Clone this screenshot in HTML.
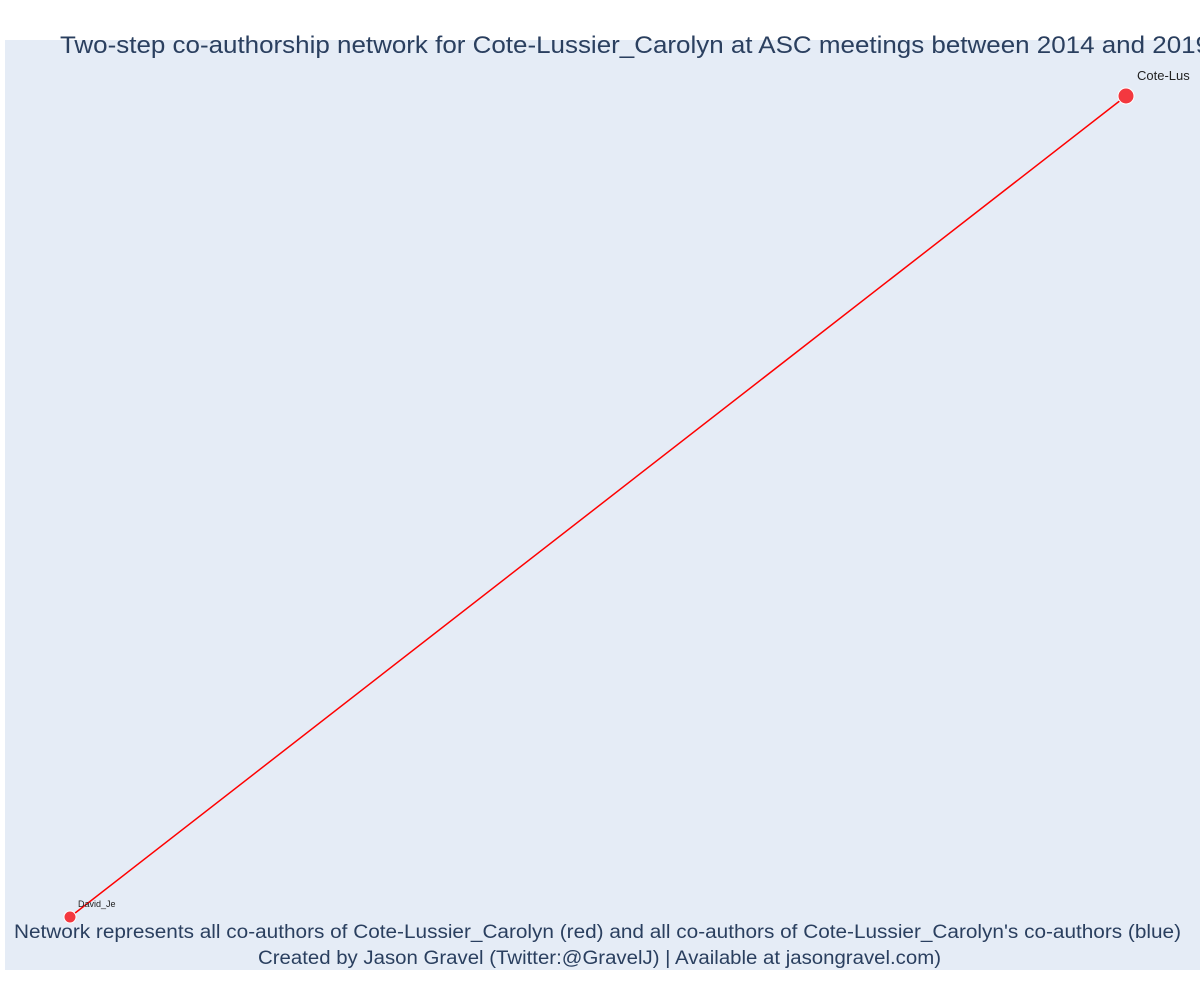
<!DOCTYPE html>
<html><head><meta charset="utf-8"><style>
body{margin:0;background:#fff;width:1200px;height:1000px;overflow:hidden;font-family:"Liberation Sans","DejaVu Sans",sans-serif}
</style></head><body>
<svg width="1200" height="1000">
<rect x="5" y="40" width="1195" height="930" fill="#e5ecf6"/>
<g id="edges"></g><g id="nodes"></g>
<text x="60" y="53" font-size="24" fill="#2a3f5f" textLength="1150" lengthAdjust="spacingAndGlyphs">Two-step co-authorship network for Cote-Lussier_Carolyn at ASC meetings between 2014 and 2019</text>
<text x="14" y="938" font-size="19" fill="#2a3f5f" textLength="1167" lengthAdjust="spacingAndGlyphs">Network represents all co-authors of Cote-Lussier_Carolyn (red) and all co-authors of Cote-Lussier_Carolyn's co-authors (blue)</text>
<text x="258" y="964" font-size="19" fill="#2a3f5f" textLength="683" lengthAdjust="spacingAndGlyphs">Created by Jason Gravel (Twitter:@GravelJ) | Available at jasongravel.com)</text>
</svg>
<script>
const nodeNames=["Cote-Lussier_Carolyn","David_Je"];
const nodeX=[1,0];
const nodeY=[1,0];
const nodeSize=[14,10];
const labelSize=[12,9];
const edgesFrom=[0];
const edgesTo=[1];
const sx=v=>70+v*(1126-70);
const sy=v=>917-v*(917-96);
const NS="http://www.w3.org/2000/svg";
const eg=document.getElementById('edges'),ng=document.getElementById('nodes');
edgesFrom.forEach((f,i)=>{const t=edgesTo[i];const l=document.createElementNS(NS,'line');
l.setAttribute('x1',sx(nodeX[f]));l.setAttribute('y1',sy(nodeY[f]));l.setAttribute('x2',sx(nodeX[t]));l.setAttribute('y2',sy(nodeY[t]));
l.setAttribute('stroke','red');l.setAttribute('stroke-width','1.5');


eg.appendChild(l);});
nodeNames.forEach((n,i)=>{const c=document.createElementNS(NS,'circle');
c.setAttribute('cx',sx(nodeX[i]));c.setAttribute('cy',sy(nodeY[i]));c.setAttribute('r',nodeSize[i]/2+1);
c.setAttribute('fill','#f3383f');c.setAttribute('stroke','#fff');c.setAttribute('stroke-width','1');


ng.appendChild(c);
const t=document.createElementNS(NS,'text');t.setAttribute('x',sx(nodeX[i])+8+(i==0?3:0));t.setAttribute('y',sy(nodeY[i])-(i==0?16:10));
t.setAttribute('font-size',labelSize[i]+(i==0?1:0));t.setAttribute('fill','#222');t.textContent=i==0?'Cote-Lus':n;


ng.appendChild(t);});
</script>
</body></html>
